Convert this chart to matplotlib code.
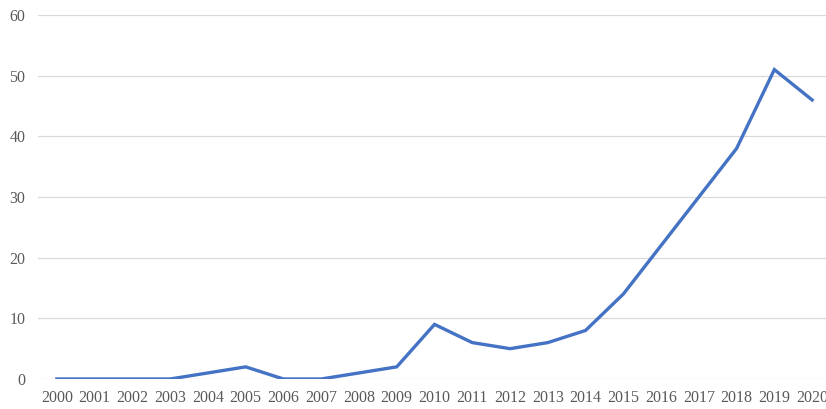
import matplotlib.pyplot as plt

# Yearly counts
years = [str(y) for y in range(2000, 2021)]
counts = [0, 0, 0, 0, 1, 2, 0, 0, 1, 2, 9, 6, 5, 6, 8, 14, 22, 30, 38, 51, 46]
y_ticks = [0, 10, 20, 30, 40, 50, 60]

plt.rcParams['font.family'] = ['Liberation Serif', 'DejaVu Serif']

fig = plt.figure(figsize=(8.26, 4.09), dpi=100)
# axes run past the right edge, as in the cropped original
ax = fig.add_axes([38 / 826, 1 - 379 / 409, 793 / 826, 364 / 409])

x = list(range(len(years)))
ax.plot(x, counts, color='#4472C4', linewidth=2.4, solid_joinstyle='miter', zorder=3)

ax.set_xlim(-0.5, len(years) - 0.5)
ax.set_ylim(0, 60)
ax.set_yticks(y_ticks)
ax.set_xticks(x)
ax.set_xticklabels(years)

ax.grid(axis='y', color='#D9D9D9', linewidth=0.9)
ax.set_axisbelow(True)
for s in ax.spines.values():
    s.set_visible(False)
ax.tick_params(length=0, labelsize=11.5, labelcolor='#595959')
ax.tick_params(axis='y', pad=9)
ax.tick_params(axis='x', pad=8)

fig.savefig('out.png', dpi=100)
